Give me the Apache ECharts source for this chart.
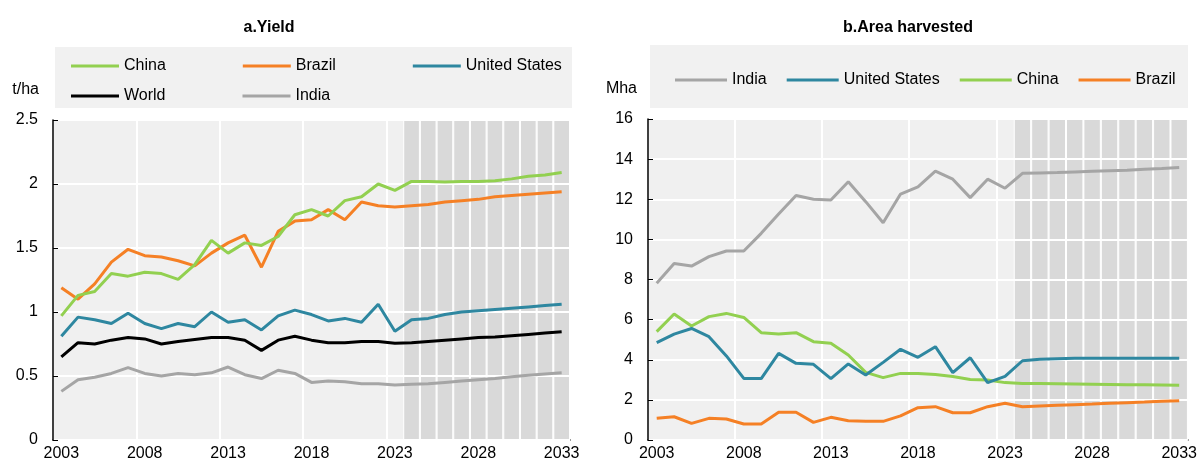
<!DOCTYPE html>
<html>
<head>
<meta charset="utf-8">
<script src="https://cdn.jsdelivr.net/npm/echarts@6/dist/echarts.min.js"></script>
<style>
html, body { margin: 0; padding: 0; background: #fff; }
#chart { width: 1200px; height: 465px; }
</style>
</head>
<body>
<div id="chart"></div>
<script>
var years = [];
for (var y = 2003; y <= 2033; y++) years.push(String(y));
var firstProjYear = 2024;

// a. Yield (t/ha)
var yieldChina = [0.97, 1.13, 1.16, 1.30, 1.28, 1.31, 1.30, 1.255, 1.37, 1.56, 1.46, 1.54, 1.52, 1.59, 1.76, 1.80, 1.75, 1.87, 1.90, 2.00, 1.95,
	2.02, 2.02, 2.015, 2.02, 2.02, 2.025, 2.04, 2.06, 2.07, 2.09];
var yieldBrazil = [1.19, 1.10, 1.22, 1.39, 1.49, 1.44, 1.43, 1.40, 1.36, 1.46, 1.54, 1.60, 1.35, 1.63, 1.71, 1.72, 1.80, 1.72, 1.86, 1.83, 1.82,
	1.83, 1.84, 1.86, 1.87, 1.88, 1.90, 1.91, 1.92, 1.93, 1.94];
var yieldUS = [0.81, 0.96, 0.94, 0.91, 0.99, 0.91, 0.87, 0.91, 0.885, 1.00, 0.92, 0.94, 0.86, 0.97, 1.015, 0.98, 0.93, 0.95, 0.92, 1.06, 0.85,
	0.94, 0.95, 0.98, 1.00, 1.01, 1.02, 1.03, 1.04, 1.05, 1.06];
var yieldWorld = [0.65, 0.76, 0.75, 0.78, 0.80, 0.79, 0.75, 0.77, 0.785, 0.80, 0.80, 0.78, 0.70, 0.78, 0.81, 0.78, 0.76, 0.76, 0.77, 0.77, 0.755,
	0.76, 0.77, 0.78, 0.79, 0.80, 0.805, 0.815, 0.825, 0.835, 0.845];
var yieldIndia = [0.38, 0.47, 0.49, 0.52, 0.565, 0.52, 0.50, 0.52, 0.51, 0.525, 0.57, 0.51, 0.48, 0.545, 0.52, 0.45, 0.46, 0.455, 0.44, 0.44, 0.43,
	0.435, 0.44, 0.45, 0.46, 0.47, 0.48, 0.495, 0.505, 0.515, 0.525];

// b. Area harvested (Mha)
var areaIndia = [7.81, 8.80, 8.67, 9.14, 9.42, 9.42, 10.3, 11.26, 12.19, 12.0, 11.96, 12.87, 11.88, 10.83, 12.26, 12.62, 13.4, 13.0, 12.08, 13.0, 12.55,
	13.29, 13.31, 13.33, 13.36, 13.39, 13.42, 13.45, 13.49, 13.53, 13.58];
var areaUS = [4.85, 5.28, 5.56, 5.15, 4.19, 3.07, 3.06, 4.32, 3.82, 3.77, 3.06, 3.79, 3.24, 3.87, 4.52, 4.12, 4.65, 3.36, 4.10, 2.86, 3.17,
	3.95, 4.02, 4.05, 4.07, 4.07, 4.07, 4.07, 4.07, 4.07, 4.07];
var areaChina = [5.40, 6.28, 5.68, 6.15, 6.31, 6.11, 5.35, 5.28, 5.35, 4.90, 4.82, 4.24, 3.37, 3.11, 3.32, 3.32, 3.27, 3.16, 3.02, 2.99, 2.86,
	2.82, 2.81, 2.80, 2.79, 2.78, 2.77, 2.76, 2.75, 2.74, 2.73];
var areaBrazil = [1.08, 1.16, 0.83, 1.08, 1.05, 0.80, 0.80, 1.38, 1.38, 0.88, 1.13, 0.96, 0.93, 0.93, 1.20, 1.61, 1.66, 1.36, 1.36, 1.66, 1.83,
	1.66, 1.70, 1.73, 1.76, 1.79, 1.83, 1.86, 1.89, 1.93, 1.96];

var colors = {
	China: '#92d050',
	Brazil: '#f58025',
	'United States': '#2e87a0',
	World: '#000000',
	India: '#a5a5a5'
};

var font = "'Liberation Sans', Arial, sans-serif";

function shade(max) {
	return years.map(function(yr) {
		return Number(yr) >= firstProjYear ? max : null;
	});
}

function xAxisFor(gridIndex) {
	return {
		type: 'category',
		gridIndex: gridIndex,
		data: years,
		boundaryGap: true,
		axisLine: { lineStyle: { color: '#000', width: 1.5 } },
		axisTick: { inside: true, length: 5, interval: 4, lineStyle: { color: '#000' } },
		axisLabel: { interval: 4, color: '#000', fontSize: 16, fontFamily: font, margin: 6 },
		splitLine: { show: true, interval: 4, lineStyle: { color: '#fff', width: 2 } }
	};
}

function yAxisFor(gridIndex, max, step, name, namePad) {
	return {
		type: 'value',
		gridIndex: gridIndex,
		min: 0,
		max: max,
		interval: step,
		z: 3,
		name: name,
		nameLocation: 'end',
		nameGap: 22,
		nameTextStyle: { color: '#000', fontSize: 16, fontFamily: font, align: 'right', padding: [0, namePad, 0, 0] },
		axisLine: { show: true, lineStyle: { color: '#000', width: 1.5 } },
		axisTick: { show: true, inside: true, length: 5, lineStyle: { color: '#000' } },
		axisLabel: { color: '#000', fontSize: 16, fontFamily: font, margin: 15 },
		splitLine: { show: true, lineStyle: { color: '#fff', width: 2 } }
	};
}

function lineSeries(name, data, idx) {
	return {
		name: name,
		type: 'line',
		xAxisIndex: idx,
		yAxisIndex: idx,
		data: data,
		symbol: 'none',
		z: 5,
		color: colors[name],
		lineStyle: { width: 3, color: colors[name] },
		animation: false
	};
}

function shadeSeries(idx, max) {
	return {
		type: 'bar',
		xAxisIndex: idx,
		yAxisIndex: idx,
		data: shade(max),
		barCategoryGap: '0%',
		silent: true,
		z: 1,
		itemStyle: { color: '#d9d9d9', borderColor: '#fff', borderWidth: 1 },
		animation: false
	};
}

var legendText = { color: '#000', fontSize: 16, fontFamily: font };

var chart = echarts.init(document.getElementById('chart'));
chart.setOption({
	animation: false,
	title: [{
		text: 'a.Yield',
		left: 264,
		textAlign: 'center',
		top: 15,
		textStyle: { fontSize: 16, fontWeight: 'bold', color: '#000', fontFamily: font }
	}, {
		text: 'b.Area harvested',
		left: 903,
		textAlign: 'center',
		top: 15,
		textStyle: { fontSize: 16, fontWeight: 'bold', color: '#000', fontFamily: font }
	}],
	graphic: [{
		type: 'rect',
		shape: { x: 55, y: 47, width: 517, height: 61 },
		style: { fill: '#f1f1f1' },
		z: -1
	}, {
		type: 'rect',
		shape: { x: 650, y: 45, width: 538, height: 63 },
		style: { fill: '#f1f1f1' },
		z: -1
	}],
	legend: [{
		data: ['China', 'Brazil', 'United States'],
		left: 66,
		top: 53,
		itemGap: 77,
		icon: 'rect',
		itemWidth: 48,
		itemHeight: 3,
		textStyle: legendText
	}, {
		data: ['World', 'India'],
		left: 66,
		top: 83,
		itemGap: 77,
		icon: 'rect',
		itemWidth: 48,
		itemHeight: 3,
		textStyle: legendText
	}, {
		data: ['India', 'United States', 'China', 'Brazil'],
		left: 670,
		top: 67,
		width: 560,
		itemGap: 20,
		icon: 'rect',
		itemWidth: 52,
		itemHeight: 3,
		textStyle: legendText
	}],
	grid: [{
		left: 53, right: 630, top: 120, bottom: 25,
		show: true, backgroundColor: '#f0f0f0', borderWidth: 0
	}, {
		left: 648, right: 12, top: 119, bottom: 25,
		show: true, backgroundColor: '#f0f0f0', borderWidth: 0
	}],
	xAxis: [xAxisFor(0), xAxisFor(1)],
	yAxis: [yAxisFor(0, 2.5, 0.5, 't/ha', 14), yAxisFor(1, 16, 2, 'Mha', 11)],
	series: [
		shadeSeries(0, 2.5),
		shadeSeries(1, 16),
		lineSeries('India', yieldIndia, 0),
		lineSeries('World', yieldWorld, 0),
		lineSeries('United States', yieldUS, 0),
		lineSeries('Brazil', yieldBrazil, 0),
		lineSeries('China', yieldChina, 0),
		lineSeries('Brazil', areaBrazil, 1),
		lineSeries('China', areaChina, 1),
		lineSeries('United States', areaUS, 1),
		lineSeries('India', areaIndia, 1)
	]
});
</script>
</body>
</html>
